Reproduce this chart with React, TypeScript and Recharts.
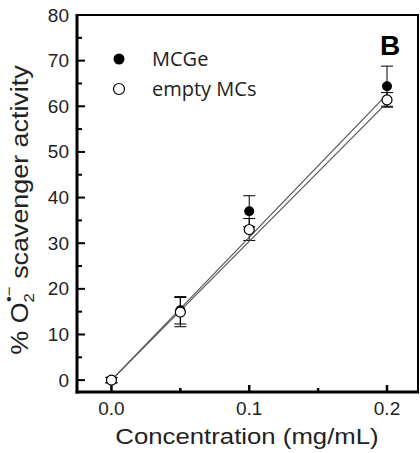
import React from 'react'
import { ComposedChart, Scatter, ErrorBar, XAxis, YAxis } from 'recharts'

// concentrations (mg/mL)
const conc = [0, 0.05, 0.1, 0.2]
const mcgeValues = [0, 15.3, 37, 64.4]
const mcgeErr = [0.6, 3, 3.4, 4.4]
const emptyValues = [0, 14.9, 33, 61.4]
const emptyErr = [0.6, 3.2, 2.4, 1.6]

// linear fit end points
const fitX = [0, 0.2]
const fitMcge = [0, 62.6]
const fitEmpty = [0, 60.8]

const xTicks = [0, 0.05, 0.1, 0.15, 0.2]
const xLabels = [0, 0.1, 0.2]
const yTicks = [0, 5, 10, 15, 20, 25, 30, 35, 40, 45, 50, 55, 60, 65, 70, 75, 80]

const xDomain = [-0.025, 0.2225]
const yDomain = [-2.6, 80]

const W = 420
const H = 453
const PLOT = { left: 77, right: 418, top: 15, bottom: 392 }
const FONT = '"Liberation Sans", Arial, sans-serif'

const mcgeData = conc.map((x, i) => ({ x, y: mcgeValues[i], err: mcgeErr[i] }))
const emptyData = conc.map((x, i) => ({ x, y: emptyValues[i], err: emptyErr[i] }))
const fitMcgeData = fitX.map((x, i) => ({ x, y: fitMcge[i] }))
const fitEmptyData = fitX.map((x, i) => ({ x, y: fitEmpty[i] }))

// same mapping as the chart's plot area, used for the frame's inward ticks
const sx = (v: number) => PLOT.left + ((v - xDomain[0]) / (xDomain[1] - xDomain[0])) * (PLOT.right - PLOT.left)
const sy = (v: number) => PLOT.bottom - ((v - yDomain[0]) / (yDomain[1] - yDomain[0])) * (PLOT.bottom - PLOT.top)

function YTick(props: any) {
  const { y, payload } = props
  const v = payload.value
  if (v % 10 !== 0) return <g />
  return (
    <text x={69} y={y} dy={6.5} textAnchor="end" fontSize={19} fontFamily={FONT} fill="#222">
      {v}
    </text>
  )
}

function XTick(props: any) {
  const { x, payload } = props
  const v = payload.value
  if (!xLabels.some((l) => Math.abs(l - v) < 1e-9)) return <g />
  return (
    <text x={x} y={415} textAnchor="middle" fontSize={19} fontFamily={FONT} fill="#222">
      {v.toFixed(1)}
    </text>
  )
}

const filled = (p: any) => <circle cx={p.cx} cy={p.cy} r={5} fill="#000" />
const open = (p: any) => <circle cx={p.cx} cy={p.cy} r={5} fill="#fff" stroke="#000" strokeWidth={1.2} />
const none = () => <g />

export default function App() {
  return (
    <div style={{ position: 'absolute', left: 0, top: 0, width: W, height: H, background: '#fff' }}>
      <ComposedChart width={W} height={H} margin={{ top: PLOT.top, right: W - PLOT.right, left: 0, bottom: 0 }}>
        <XAxis
          dataKey="x"
          type="number"
          domain={xDomain}
          ticks={xTicks}
          interval={0}
          tick={<XTick />}
          tickLine={false}
          height={H - PLOT.bottom}
          axisLine={false}
          allowDataOverflow
        />
        <YAxis
          dataKey="y"
          type="number"
          domain={yDomain}
          ticks={yTicks}
          interval={0}
          tick={<YTick />}
          tickLine={false}
          width={PLOT.left}
          axisLine={false}
          allowDataOverflow
        />

        {/* fit lines */}
        <Scatter data={fitMcgeData} line={{ stroke: '#555', strokeWidth: 1.2 }} shape={none} isAnimationActive={false} />
        <Scatter data={fitEmptyData} line={{ stroke: '#555', strokeWidth: 1.2 }} shape={none} isAnimationActive={false} />

        <Scatter data={mcgeData} shape={filled} isAnimationActive={false}>
          <ErrorBar dataKey="err" direction="y" width={6} stroke="#000" strokeWidth={1} isAnimationActive={false} />
        </Scatter>
        <Scatter data={emptyData} shape={open} isAnimationActive={false}>
          <ErrorBar dataKey="err" direction="y" width={6} stroke="#000" strokeWidth={1} isAnimationActive={false} />
        </Scatter>
      </ComposedChart>

      <svg width={W} height={H} style={{ position: 'absolute', left: 0, top: 0, zIndex: 10, pointerEvents: 'none' }}>
        {/* frame: thick left/bottom axes, thin top/right */}
        <rect x={PLOT.left} y={PLOT.top - 1} width={PLOT.right - PLOT.left + 1} height={2} fill="#000" />
        <rect x={PLOT.right - 1} y={PLOT.top - 1} width={2} height={PLOT.bottom - PLOT.top + 1} fill="#000" />
        <rect x={PLOT.left - 1.5} y={PLOT.bottom - 1.5} width={PLOT.right - PLOT.left + 2.5} height={3} fill="#000" />
        <rect x={PLOT.left - 1.5} y={PLOT.top - 1} width={3} height={PLOT.bottom - PLOT.top + 2.5} fill="#000" />

        {/* inward ticks */}
        {yTicks.map((v) => (
          <rect key={'y' + v} x={PLOT.left} y={sy(v) - 1} width={v % 10 === 0 ? 8 : 5} height={2} fill="#000" />
        ))}
        {xTicks.map((v) => {
          const major = xLabels.some((l) => Math.abs(l - v) < 1e-9)
          const len = major ? 7 : 4
          return <rect key={'x' + v} x={sx(v) - 1.25} y={PLOT.bottom - len} width={2.5} height={len} fill="#000" />
        })}

        {/* legend */}
        <circle cx={119} cy={59} r={5.5} fill="#000" />
        <text x={152} y={66} fontSize={20} fontFamily='"Open Sans", sans-serif' fill="#222">MCGe</text>
        <circle cx={119} cy={89} r={5.5} fill="#fff" stroke="#000" strokeWidth={1.2} />
        <text x={152} y={96} fontSize={20} fontFamily='"Open Sans", sans-serif' fill="#222">empty MCs</text>

        <text x={380} y={55} fontSize={28} fontWeight="bold" fontFamily={FONT} fill="#000">B</text>

        {/* axis titles */}
        <text
          transform="translate(247,444) scale(1.12,1)"
          textAnchor="middle"
          fontSize={23}
          fontFamily={FONT}
          fill="#222"
        >
          Concentration (mg/mL)
        </text>
        <text
          transform="translate(28,210) rotate(-90) scale(1.12,1)"
          textAnchor="middle"
          fontSize={24}
          fontFamily={FONT}
          fill="#222"
        >
          % O<tspan fontSize={15} dy={6}>2</tspan>
          <tspan fontSize={15} dx={-8} dy={-20}>•−</tspan>
          <tspan dy={14}> scavenger activity</tspan>
        </text>
      </svg>
    </div>
  )
}
